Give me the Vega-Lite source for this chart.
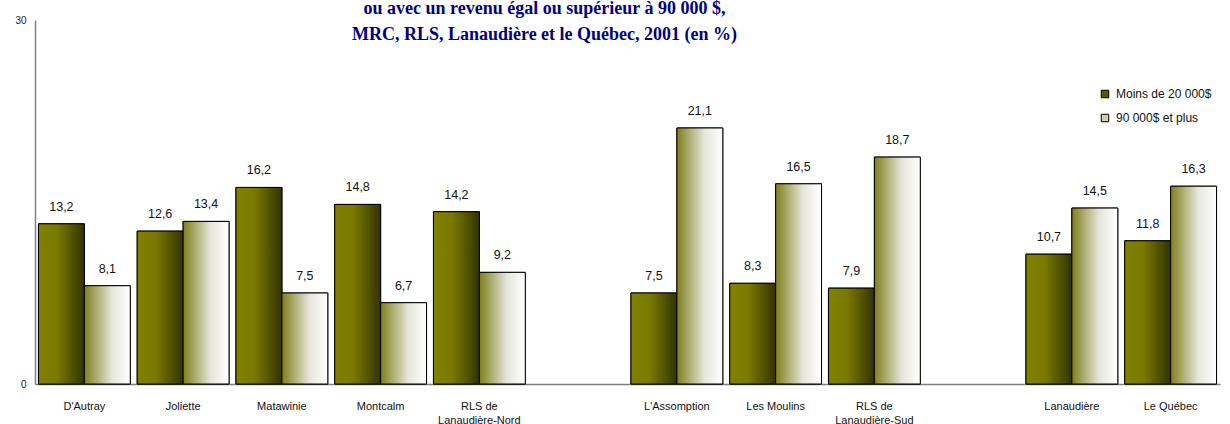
{
  "$schema": "https://vega.github.io/schema/vega-lite/v6.json",
  "width": 1185,
  "height": 364,
  "autosize": {"type": "none"},
  "padding": {"left": 35, "top": 20, "right": 10, "bottom": 40},
  "background": "white",
  "config": {
    "locale": {"number": {"decimal": ",", "thousands": " ", "grouping": [3], "currency": ["", " $"]}},
    "view": {"stroke": null},
    "font": "Liberation Sans"
  },
  "title": {
    "text": ["ou avec un revenu égal ou supérieur à 90 000 $,", "MRC, RLS, Lanaudière et le Québec, 2001 (en %)"],
    "font": "Liberation Serif",
    "fontSize": 18,
    "fontWeight": "bold",
    "color": "#000080",
    "lineHeight": 26,
    "anchor": "middle",
    "frame": "group",
    "baseline": "alphabetic",
    "orient": "top",
    "offset": -43,
    "dx": -83
  },
  "data": {
    "values": [
      {"region": "D'Autray", "serie": "Moins de 20 000$", "valeur": 13.2},
      {"region": "D'Autray", "serie": "90 000$ et plus", "valeur": 8.1},
      {"region": "Joliette", "serie": "Moins de 20 000$", "valeur": 12.6},
      {"region": "Joliette", "serie": "90 000$ et plus", "valeur": 13.4},
      {"region": "Matawinie", "serie": "Moins de 20 000$", "valeur": 16.2},
      {"region": "Matawinie", "serie": "90 000$ et plus", "valeur": 7.5},
      {"region": "Montcalm", "serie": "Moins de 20 000$", "valeur": 14.8},
      {"region": "Montcalm", "serie": "90 000$ et plus", "valeur": 6.7},
      {"region": "RLS de|Lanaudière-Nord", "serie": "Moins de 20 000$", "valeur": 14.2},
      {"region": "RLS de|Lanaudière-Nord", "serie": "90 000$ et plus", "valeur": 9.2},
      {"region": "L'Assomption", "serie": "Moins de 20 000$", "valeur": 7.5},
      {"region": "L'Assomption", "serie": "90 000$ et plus", "valeur": 21.1},
      {"region": "Les Moulins", "serie": "Moins de 20 000$", "valeur": 8.3},
      {"region": "Les Moulins", "serie": "90 000$ et plus", "valeur": 16.5},
      {"region": "RLS de|Lanaudière-Sud", "serie": "Moins de 20 000$", "valeur": 7.9},
      {"region": "RLS de|Lanaudière-Sud", "serie": "90 000$ et plus", "valeur": 18.7},
      {"region": "Lanaudière", "serie": "Moins de 20 000$", "valeur": 10.7},
      {"region": "Lanaudière", "serie": "90 000$ et plus", "valeur": 14.5},
      {"region": "Le Québec", "serie": "Moins de 20 000$", "valeur": 11.8},
      {"region": "Le Québec", "serie": "90 000$ et plus", "valeur": 16.3}
    ]
  },
  "encoding": {
    "x": {
      "field": "region",
      "type": "nominal",
      "sort": null,
      "scale": {
        "domain": ["D'Autray", "Joliette", "Matawinie", "Montcalm", "RLS de|Lanaudière-Nord", " ", "L'Assomption", "Les Moulins", "RLS de|Lanaudière-Sud", "  ", "Lanaudière", "Le Québec"],
        "paddingInner": 0.07,
        "paddingOuter": 0.035
      },
      "axis": {
        "title": null,
        "labelExpr": "split(datum.label, '|')",
        "labelAngle": 0,
        "labelFontSize": 11,
        "labelColor": "#111111",
        "labelPadding": 16,
        "labelLineHeight": 14,
        "ticks": false,
        "domainColor": "#808080",
        "domainWidth": 1.5
      }
    },
    "xOffset": {"field": "serie", "type": "nominal", "scale": {"domain": ["Moins de 20 000$", "90 000$ et plus"], "paddingInner": 0, "paddingOuter": 0}},
    "y": {
      "field": "valeur",
      "type": "quantitative",
      "scale": {"domain": [0, 30], "nice": false},
      "axis": {
        "title": null,
        "values": [0, 30],
        "grid": false,
        "ticks": false,
        "labelFontSize": 10,
        "labelColor": "#222222",
        "labelPadding": 9,
        "domainColor": "#808080",
        "domainWidth": 1.5
      }
    }
  },
  "layer": [
    {
      "mark": {"type": "bar", "stroke": "black", "strokeWidth": 1},
      "encoding": {
        "color": {
          "field": "serie",
          "type": "nominal",
          "scale": {"domain": ["Moins de 20 000$", "90 000$ et plus"], "range": ["#5a5a00", "#cfcfa8"]},
          "legend": {
            "title": null,
            "orient": "none",
            "legendX": 1064,
            "legendY": 68,
            "symbolType": "square",
            "symbolSize": 56,
            "symbolStrokeColor": "black",
            "symbolStrokeWidth": 1,
            "labelFontSize": 12,
            "labelColor": "#111111",
            "rowPadding": 12,
            "labelOffset": 5
          }
        }
      }
    },
    {
      "transform": [{"filter": "datum.serie === 'Moins de 20 000$'"}],
      "mark": {
        "type": "bar",
        "stroke": "black",
        "strokeWidth": 1,
        "fill": {
          "gradient": "linear", "x1": 0, "y1": 0, "x2": 1, "y2": 0,
          "stops": [
            {"offset": 0, "color": "#808000"},
            {"offset": 0.4, "color": "#7a7a00"},
            {"offset": 1, "color": "#333300"}
          ]
        }
      },
      "encoding": {}
    },
    {
      "transform": [{"filter": "datum.serie === '90 000$ et plus'"}],
      "mark": {
        "type": "bar",
        "stroke": "black",
        "strokeWidth": 1,
        "fill": {
          "gradient": "linear", "x1": 0, "y1": 0, "x2": 1, "y2": 0,
          "stops": [
            {"offset": 0, "color": "#7f7f1c"},
            {"offset": 0.6, "color": "#e6e6dc"},
            {"offset": 1, "color": "#ffffff"}
          ]
        }
      },
      "encoding": {}
    },
    {
      "mark": {"type": "text", "baseline": "alphabetic", "dy": -13, "fontSize": 12.5, "color": "#111111"},
      "encoding": {
        "text": {"field": "valeur", "type": "quantitative", "format": ".1f"}
      }
    }
  ]
}
